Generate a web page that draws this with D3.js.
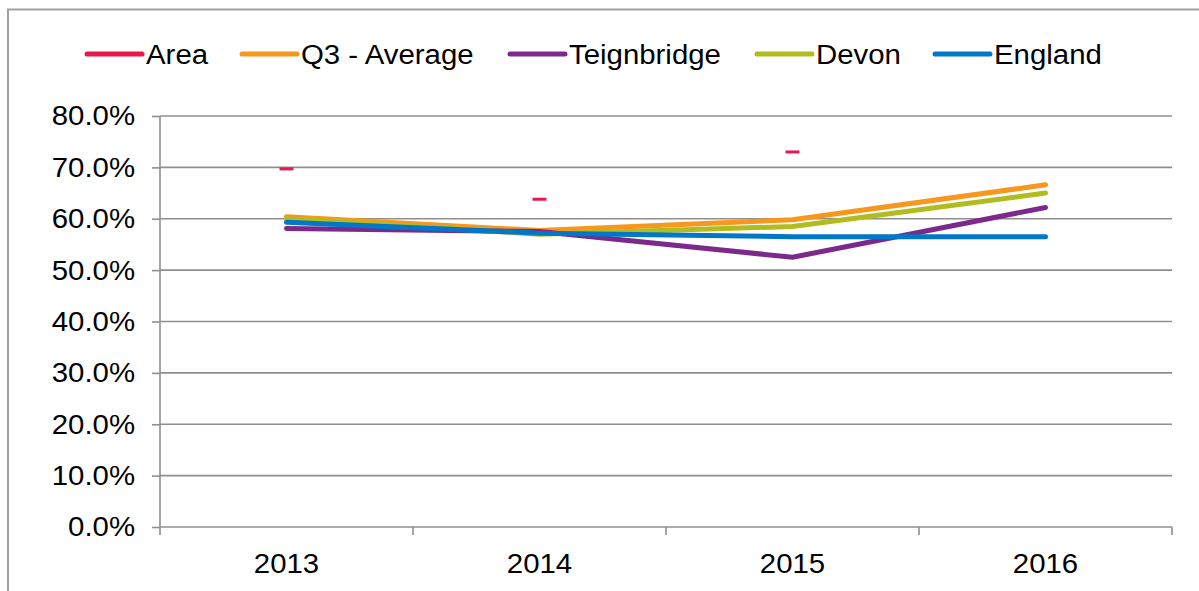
<!DOCTYPE html>
<html>
<head>
<meta charset="utf-8">
<script src="https://cdn.jsdelivr.net/npm/d3@7/dist/d3.min.js"></script>
<style>
html,body{margin:0;padding:0;background:#fff;}
svg text{font-family:"Liberation Sans",Arial,sans-serif;fill:#000;}
</style>
</head>
<body>
<svg id="chart" width="1199" height="591"></svg>
<script>
const years = ["2013","2014","2015","2016"];
const seriesNames = ["Area","Q3 - Average","Teignbridge","Devon","England"];
const seriesColors = ["#E8174F","#F7971E","#7B2A8C","#B1BD1F","#0077C8"];
const areaValues = [0.697, 0.638, 0.730, null];
const q3Values = [0.604, 0.577, 0.598, 0.666];
const teignValues = [0.581, 0.575, 0.525, 0.622];
const devonValues = [0.600, 0.570, 0.585, 0.650];
const englandValues = [0.593, 0.572, 0.565, 0.565];
const yTicks = [0,0.1,0.2,0.3,0.4,0.5,0.6,0.7,0.8];

const svg = d3.select("#chart");
const fontSize = 28;
const sx = 1.05;

// outer frame
svg.append("rect").attr("x",8).attr("y",9.5).attr("width",1300).attr("height",700)
  .attr("fill","none").attr("stroke","#a0a0a0").attr("stroke-width",2);

const x = d3.scaleBand().domain(years).range([160,1172]).padding(0);
const y = d3.scaleLinear().domain([0,0.8]).range([527,116]);
const fmt = d3.format(".1%");

// gridlines
svg.append("g").selectAll("line").data(yTicks.filter(d=>d>0)).join("line")
  .attr("x1",160).attr("x2",1172)
  .attr("y1",d=>y(d)).attr("y2",d=>y(d))
  .attr("stroke","#8f8f8f").attr("stroke-width",1.6);

// y axis
const yAxis = d3.axisLeft(y).tickValues(yTicks).tickFormat(fmt).tickSize(8).tickPadding(17);
const gy = svg.append("g").attr("transform","translate(160,0)").call(yAxis);
gy.select(".domain").attr("stroke","#8f8f8f").attr("stroke-width",1.6).attr("d","M0,116V527");
gy.selectAll(".tick line").attr("stroke","#8f8f8f").attr("stroke-width",1.6);
gy.selectAll(".tick text").attr("font-size",fontSize).attr("font-family","Liberation Sans, Arial, sans-serif").attr("fill","#000")
  .attr("x",-25/sx).attr("transform",`scale(${sx},1)`);

// x axis
const xAxis = d3.axisBottom(x).tickSize(0).tickPadding(26);
const gx = svg.append("g").attr("transform","translate(0,527)").call(xAxis);
gx.select(".domain").attr("stroke","#8f8f8f").attr("stroke-width",1.6).attr("d","M160,0H1172");
gx.selectAll(".tick text").attr("font-size",fontSize).attr("font-family","Liberation Sans, Arial, sans-serif").attr("fill","#000")
  .attr("transform",`scale(${sx},1)`);
// boundary ticks
const bounds = years.map(d=>x(d)).concat([x(years[years.length-1])+x.bandwidth()]);
svg.append("g").selectAll("line").data(bounds).join("line")
  .attr("x1",d=>d).attr("x2",d=>d).attr("y1",527).attr("y2",535)
  .attr("stroke","#8f8f8f").attr("stroke-width",1.6);

const cx = d => x(d) + x.bandwidth()/2;

// lines
const lineSeries = [
  {vals:q3Values, color:seriesColors[1]},
  {vals:teignValues, color:seriesColors[2]},
  {vals:devonValues, color:seriesColors[3]},
  {vals:englandValues, color:seriesColors[4]}
];
const line = d3.line().defined(d=>d.v!=null).x(d=>cx(d.k)).y(d=>y(d.v));
svg.append("g").selectAll("path").data(lineSeries).join("path")
  .attr("d",s=>line(years.map((k,i)=>({k:k,v:s.vals[i]}))))
  .attr("fill","none").attr("stroke",s=>s.color).attr("stroke-width",5)
  .attr("stroke-linecap","round").attr("stroke-linejoin","round");

// area markers (dash markers)
svg.append("g").selectAll("rect").data(years.map((k,i)=>({k:k,v:areaValues[i]})).filter(d=>d.v!=null)).join("rect")
  .attr("x",d=>cx(d.k)-7).attr("y",d=>y(d.v)-1.5).attr("width",14).attr("height",3)
  .attr("fill",seriesColors[0]);

// legend
const legendX = [87,242,510,757,935];
const lg = svg.append("g").selectAll("g").data(seriesNames).join("g")
  .attr("transform",(d,i)=>`translate(${legendX[i]},54)`);
lg.append("line").attr("x1",0).attr("x2",55).attr("y1",0).attr("y2",0)
  .attr("stroke",(d,i)=>seriesColors[i]).attr("stroke-width",5).attr("stroke-linecap","round");
lg.append("text").attr("x",59/sx).attr("y",10).attr("font-size",fontSize)
  .attr("transform",`scale(${sx},1)`).text(d=>d);
</script>
</body>
</html>
